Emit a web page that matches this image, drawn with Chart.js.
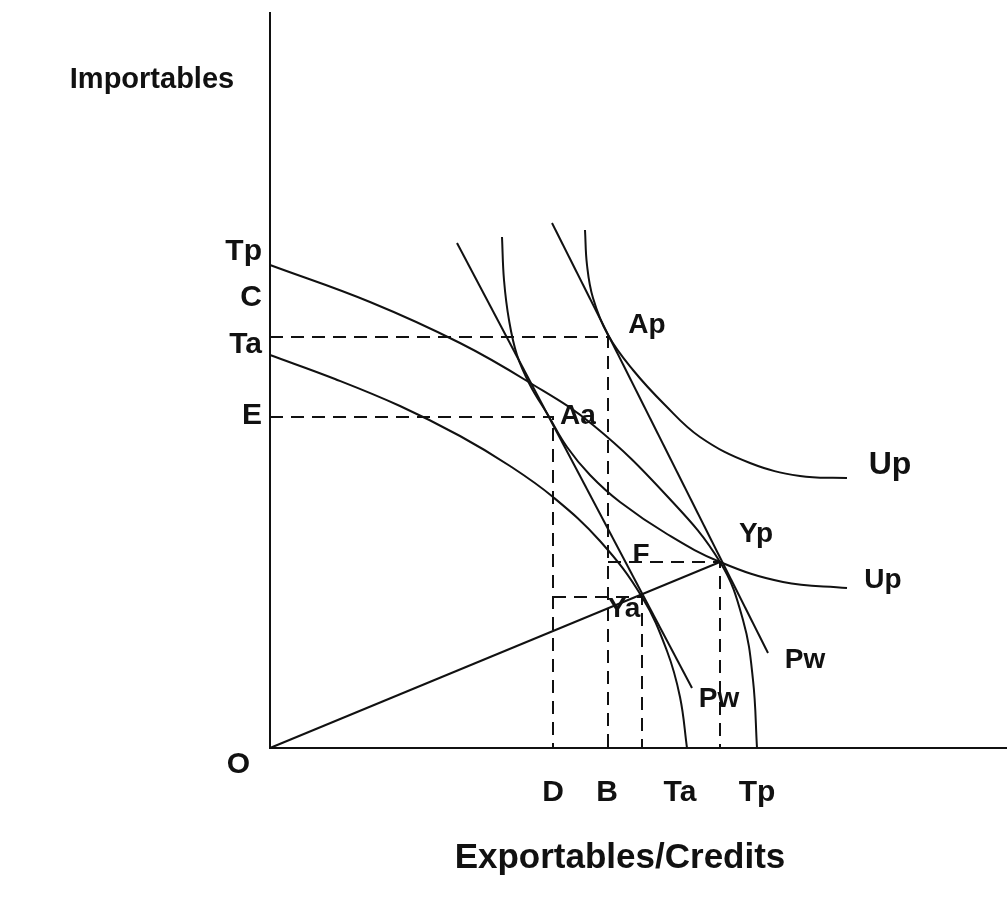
<!DOCTYPE html>
<html>
<head>
<meta charset="utf-8">
<title>Importables / Exportables</title>
<script src="https://cdn.jsdelivr.net/npm/chart.js@4.4.1/dist/chart.umd.min.js"></script>
<style>
    body { margin: 0; background: #fff; }
    #wrap { width: 1007px; height: 899px; }
</style>
</head>
<body>
<div id="wrap"><canvas id="tradeChart" width="1007" height="899"></canvas></div>
<script>
// Values (x = exportables, y = importables)
const tpFrontier = [[0, 483], [100, 446], [190, 405], [257, 367], [323, 323], [397, 252], [450, 186], [473, 128], [483, 68], [487, 0]];
const taFrontier = [[0, 393], [65, 369], [130, 342], [190, 312], [240, 282], [283, 251], [330, 207], [372, 151], [397, 97], [410, 51], [417, 0]];
const upperIndiff = [[315, 518], [317, 483], [323, 450], [338, 413], [363, 378], [395, 343], [430, 311], [480, 285], [530, 272], [577, 270]];
const lowerIndiff = [[232, 511], [234, 468], [239, 428], [247, 393], [260, 363], [278, 333], [297, 301], [320, 273], [350, 246], [397, 214], [450, 186], [513, 166], [577, 160]];
const pwUpper = [[282, 525], [498, 95]];
const pwLower = [[187, 505], [422, 60]];
const ray = [[0, 0], [450, 186]];
const axes = [[0, 736], [0, 0], [737, 0]];

// dashed guides: axis -> corner -> axis
const guideC = [[0, 411], [338, 411], [338, 0]];
const guideE = [[0, 331], [283, 331], [283, 0]];
const guideF = [[338, 186], [450, 186], [450, 0]];
const guideYa = [[283, 151], [372, 151], [372, 0]];

// tick labels on the axes
const yTickLabels = ["Tp", "C", "Ta", "E"];
const yTickValues = [496, 450, 403, 332];
const xTickLabels = ["D", "B", "Ta", "Tp"];
const xTickValues = [283, 337, 410, 487];

// point labels inside the plot
const pointLabels = ["Ap", "Aa", "Yp", "F", "Ya", "Up", "Up", "Pw", "Pw"];
const pointLabelX = [377, 308, 486, 371, 354, 620, 613, 535, 449];
const pointLabelY = [423, 332, 214, 193, 139, 283, 168, 88, 49];

function toXY(arr) {
    return arr.map(function (p) { return { x: p[0], y: p[1] }; });
}

document.addEventListener("DOMContentLoaded", function () {
    const ctx = document.getElementById("tradeChart").getContext("2d");

    const solid = function (pts, tension) {
        return {
            data: toXY(pts),
            showLine: true,
            borderColor: "#111",
            borderWidth: 2,
            pointRadius: 0,
            tension: tension,
            clip: false,
        };
    };
    const dashed = function (pts) {
        const d = solid(pts, 0);
        d.borderDash = [13, 8];
        return d;
    };

    // text labels drawn through the scales
    const labelPlugin = {
        id: "labels",
        afterDatasetsDraw: function (chart) {
            const c = chart.ctx;
            const xs = chart.scales.x;
            const ys = chart.scales.y;
            c.save();
            c.fillStyle = "#111";
            c.textBaseline = "middle";

            c.font = "bold 30px 'Liberation Sans', Arial, sans-serif";
            c.textAlign = "right";
            yTickLabels.forEach(function (t, i) {
                c.fillText(t, xs.getPixelForValue(0) - 8, ys.getPixelForValue(yTickValues[i]));
            });
            c.fillText("O", xs.getPixelForValue(0) - 20, ys.getPixelForValue(-17));

            c.textAlign = "center";
            xTickLabels.forEach(function (t, i) {
                c.fillText(t, xs.getPixelForValue(xTickValues[i]), ys.getPixelForValue(-45));
            });

            pointLabels.forEach(function (t, i) {
                c.font = "bold " + (i === 5 ? 32 : 28) + "px 'Liberation Sans', Arial, sans-serif";
                c.fillText(t, xs.getPixelForValue(pointLabelX[i]), ys.getPixelForValue(pointLabelY[i]));
            });

            // axis titles
            c.font = "bold 29px 'Liberation Sans', Arial, sans-serif";
            c.fillText("Importables", xs.getPixelForValue(-118), ys.getPixelForValue(668));
            c.font = "bold 35px 'Liberation Sans', Arial, sans-serif";
            c.fillText("Exportables/Credits", xs.getPixelForValue(350), ys.getPixelForValue(-110));
            c.restore();
        },
    };

    new Chart(ctx, {
        type: "scatter",
        data: {
            datasets: [
                solid(axes, 0),
                solid(tpFrontier, 0.4),
                solid(taFrontier, 0.4),
                solid(upperIndiff, 0.4),
                solid(lowerIndiff, 0.4),
                solid(pwUpper, 0),
                solid(pwLower, 0),
                solid(ray, 0),
                dashed(guideC),
                dashed(guideE),
                dashed(guideF),
                dashed(guideYa),
            ],
        },
        options: {
            responsive: false,
            animation: false,
            layout: { padding: { left: 270, top: 12, right: 0, bottom: 151 } },
            plugins: {
                legend: { display: false },
                tooltip: { enabled: false },
            },
            scales: {
                x: { type: "linear", min: 0, max: 737, display: false },
                y: { type: "linear", min: 0, max: 736, display: false },
            },
        },
        plugins: [labelPlugin],
    });
});
</script>
</body>
</html>
